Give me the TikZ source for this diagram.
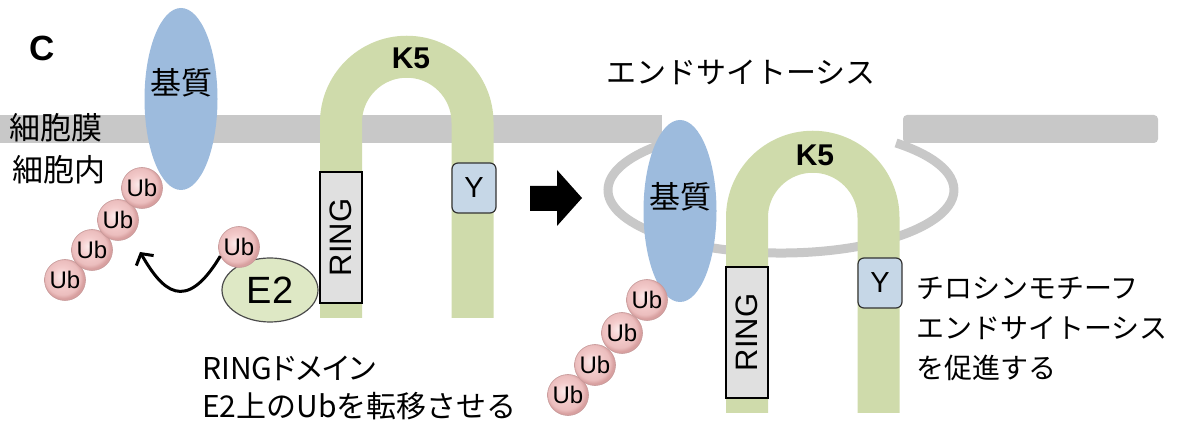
\documentclass[tikz,border=0pt]{standalone}
\usepackage{fontspec}
\setmainfont{Liberation Sans}
\newfontfamily\jp{Noto Sans CJK JP}
\newfontfamily\jpprop[RawFeature=+palt]{Noto Sans CJK JP}
\usetikzlibrary{arrows.meta,shapes.geometric}

\definecolor{memgray}{HTML}{C8C8C8}
\definecolor{subblue}{HTML}{9DBBDD}
\definecolor{kgreen}{HTML}{CFDBAB}
\definecolor{ringgray}{HTML}{E0E0E0}
\definecolor{yblue}{HTML}{C6D7E7}
\definecolor{e2green}{HTML}{DEE8C5}
\definecolor{ubin}{HTML}{FCEAEA}
\definecolor{ubmid}{HTML}{F3CACA}
\definecolor{ubout}{HTML}{D8A0A0}

% soft pink ball for ubiquitin
\pgfdeclareradialshading{ubball}{\pgfpoint{-5bp}{5bp}}{%
  color(0bp)=(ubin); color(12bp)=(ubmid); color(21bp)=(ubmid!70!ubout);
  color(25bp)=(ubout); color(50bp)=(ubout)}

\tikzset{
  ub/.style={circle, minimum size=41pt, inner sep=0pt, shading=ubball,
    draw=ubout!80!gray, line width=0.6pt, font=\fontsize{24}{24}\selectfont},
  ybox/.style={rectangle, rounded corners=6pt, fill=yblue, draw=black!80,
    line width=1.2pt, minimum width=44pt, minimum height=50pt, inner sep=0pt,
    font=\fontsize{29}{29}\selectfont},
  ringbox/.style={rectangle, rotate=90, fill=ringgray, draw=black,
    line width=2pt, minimum width=131pt, minimum height=42pt, inner sep=0pt,
    font=\fontsize{31}{31}\selectfont},
  karch/.style={draw=kgreen, line width=42pt},
  subst/.style={ellipse, fill=subblue, minimum width=73pt,
    minimum height=182pt, inner sep=0pt},
  e2node/.style={ellipse, fill=e2green, draw=black!70, line width=1.2pt,
    minimum width=96pt, minimum height=64pt, inner sep=0pt,
    font=\fontsize{38}{38}\selectfont},
  jptext/.style={font=\jp\fontsize{28}{40}\selectfont, inner sep=0pt,
    align=left},
  jpbig/.style={font=\jp\fontsize{31}{40}\selectfont, inner sep=0pt},
  boldlabel/.style={font=\bfseries\fontsize{30}{30}\selectfont, inner sep=0pt},
}

\begin{document}
\begin{tikzpicture}[x=1pt, y=-1pt]
\useasboundingbox (0,0) rectangle (1178,427);

% plasma membrane and budding vesicle
\fill[memgray] (0,115) rectangle (662,143);
\fill[memgray, rounded corners=4pt] (903,115) rectangle (1158,143);
\draw[memgray, line width=9pt] (665.9,143)
  arc[start angle=131.7, end angle=408.3, x radius=173pt, y radius=63pt];

% substrates
\node[subst] (sub1) at (181,99) {};
\node[jpbig] (sub1label) at ([yshift=16pt]sub1.center) {基質};
\node[subst] (sub2) at (680,211) {};
\node[jpbig] (sub2label) at ([yshift=14pt]sub2.center) {基質};

% K5 at the surface
\draw[karch] (341,318) -- (341,122.5)
  arc[start angle=180, end angle=0, radius=65.75pt] -- (472.5,318);
\node[boldlabel] (k5a) at (411,58) {K5};
\node[ringbox] (ring1) at (341,237.5) {RING};
\node[ybox] (y1) at (474,188) {Y};

% K5 in the endocytic vesicle
\begin{scope}[shift={(406,95)}]
\draw[karch] (341,318) -- (341,122.5)
  arc[start angle=180, end angle=0, radius=65.75pt] -- (472.5,318);
\node[boldlabel] (k5b) at (409,60) {K5};
\node[ringbox] (ring2) at (341,237.5) {RING};
\node[ybox] (y2) at (474,188) {Y};
\end{scope}

% E2 carrying ubiquitin
\node[e2node] (e2) at (270,290) {E2};
\node[ub] (ube) at (239,247) {Ub};

% polyubiquitin chains
\node[ub] (ua4) at (65,280) {Ub};
\node[ub] (ua3) at (92,250) {Ub};
\node[ub] (ua2) at (118,220) {Ub};
\node[ub] (ua1) at (142,188) {Ub};
\node[ub] (ub4) at (568,395) {Ub};
\node[ub] (ub3) at (595,365) {Ub};
\node[ub] (ub2) at (622,333) {Ub};
\node[ub] (ub1) at (647,300) {Ub};

% transfer of Ub from E2
\coordinate (ubtarget) at (140,252);
\draw[line width=3pt, -{Straight Barb[length=8pt, width=20pt]}]
  (ube.206) .. controls (185,315) and (162,290) .. (ubtarget);

% block arrow between the two states
\fill[black] (530,186) -- (557,186) -- (557,170) -- (582,198)
  -- (557,226) -- (557,211) -- (530,211) -- cycle;

% labels
\node[font=\bfseries\fontsize{35}{35}\selectfont, inner sep=0pt] (panel) at (42,48) {C};
\node[jpbig, anchor=west] (memlabel) at (9,128) {細胞膜};
\node[jpbig, anchor=west] (inlabel) at (12,170) {細胞内};
\node[jptext, font=\jp\fontsize{30}{40}\selectfont, anchor=west] (endo) at (606,72) {エンドサイトーシス};
\node[jptext, font=\jp\fontsize{30}{38}\selectfont, anchor=west] (ringnote) at (202,388)
  {{\jpprop RINGドメイン}\\E2上のUbを転移させる};
\node[jptext, anchor=west] (ynote) at (916,329) {チロシンモチーフ\\エンドサイトーシス\\を促進する};
\end{tikzpicture}
\end{document}
